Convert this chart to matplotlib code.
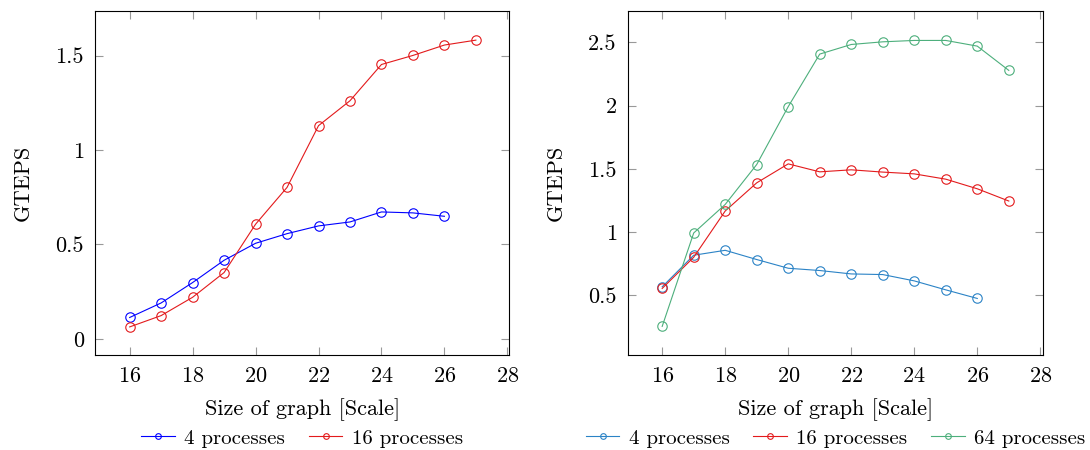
import matplotlib.pyplot as plt

plt.rcParams['font.family'] = ['cmr10', 'DejaVu Serif']
plt.rcParams['axes.formatter.use_mathtext'] = True
plt.rcParams['font.size'] = 16

# left plot
scale_4 = [16, 17, 18, 19, 20, 21, 22, 23, 24, 25, 26]
scale_16 = [16, 17, 18, 19, 20, 21, 22, 23, 24, 25, 26, 27]
left_4 = [0.113, 0.19, 0.298, 0.416, 0.506, 0.557, 0.598, 0.619, 0.672, 0.667, 0.649]
left_16 = [0.063, 0.123, 0.22, 0.351, 0.607, 0.802, 1.129, 1.261, 1.453, 1.501, 1.556, 1.582]

# right plot
scale_64 = [16, 17, 18, 19, 20, 21, 22, 23, 24, 25, 26, 27]
right_4 = [0.566, 0.816, 0.855, 0.782, 0.713, 0.695, 0.668, 0.663, 0.613, 0.542, 0.474]
right_16 = [0.553, 0.80, 1.166, 1.389, 1.539, 1.476, 1.492, 1.474, 1.46, 1.418, 1.342, 1.245]
right_64 = [0.253, 0.992, 1.218, 1.534, 1.992, 2.408, 2.484, 2.505, 2.516, 2.516, 2.471, 2.279]

fig = plt.figure(figsize=(10.9, 4.5), dpi=100)
ax1 = fig.add_axes([0.0872, 0.211, 0.38, 0.764])
ax2 = fig.add_axes([0.576, 0.211, 0.381, 0.764])

style = dict(marker='o', markersize=6.8, markerfacecolor='none', linewidth=0.8, markeredgewidth=0.8)

ax1.plot(scale_4, left_4, color='#0000ff', label='4 processes', **style)
ax1.plot(scale_16, left_16, color='#e31a1c', label='16 processes', **style)
ax1.set_xlim(14.9, 28.06)
ax1.set_ylim(-0.086, 1.735)
ax1.set_yticks([0, 0.5, 1, 1.5])
ax1.set_yticklabels(['0', '0.5', '1', '1.5'])

ax2.plot(scale_4, right_4, color='#2b83c6', label='4 processes', **style)
ax2.plot(scale_16, right_16, color='#e31a1c', label='16 processes', **style)
ax2.plot(scale_64, right_64, color='#4daf7c', label='64 processes', **style)
ax2.set_xlim(14.91, 28.09)
ax2.set_ylim(0.026, 2.747)
ax2.set_yticks([0.5, 1, 1.5, 2, 2.5])
ax2.set_yticklabels(['0.5', '1', '1.5', '2', '2.5'])

for ax in [ax1, ax2]:
    ax.set_xticks([16, 18, 20, 22, 24, 26, 28])
    ax.set_xlabel('Size of graph [Scale]', labelpad=9)
    ax.set_ylabel('GTEPS', labelpad=16)
    ax.tick_params(direction='in', length=6, width=0.8, color='#999999',
                   top=True, right=True, pad=8, labelsize=16)
    for s in ax.spines.values():
        s.set_linewidth(0.8)
    ax.legend(loc='center', bbox_to_anchor=(0.5, -0.242), ncol=3, frameon=False,
              handlelength=1.6, handletextpad=0.45, columnspacing=1.15, fontsize=15,
              markerscale=0.6)

fig.savefig('out.png', dpi=100)
